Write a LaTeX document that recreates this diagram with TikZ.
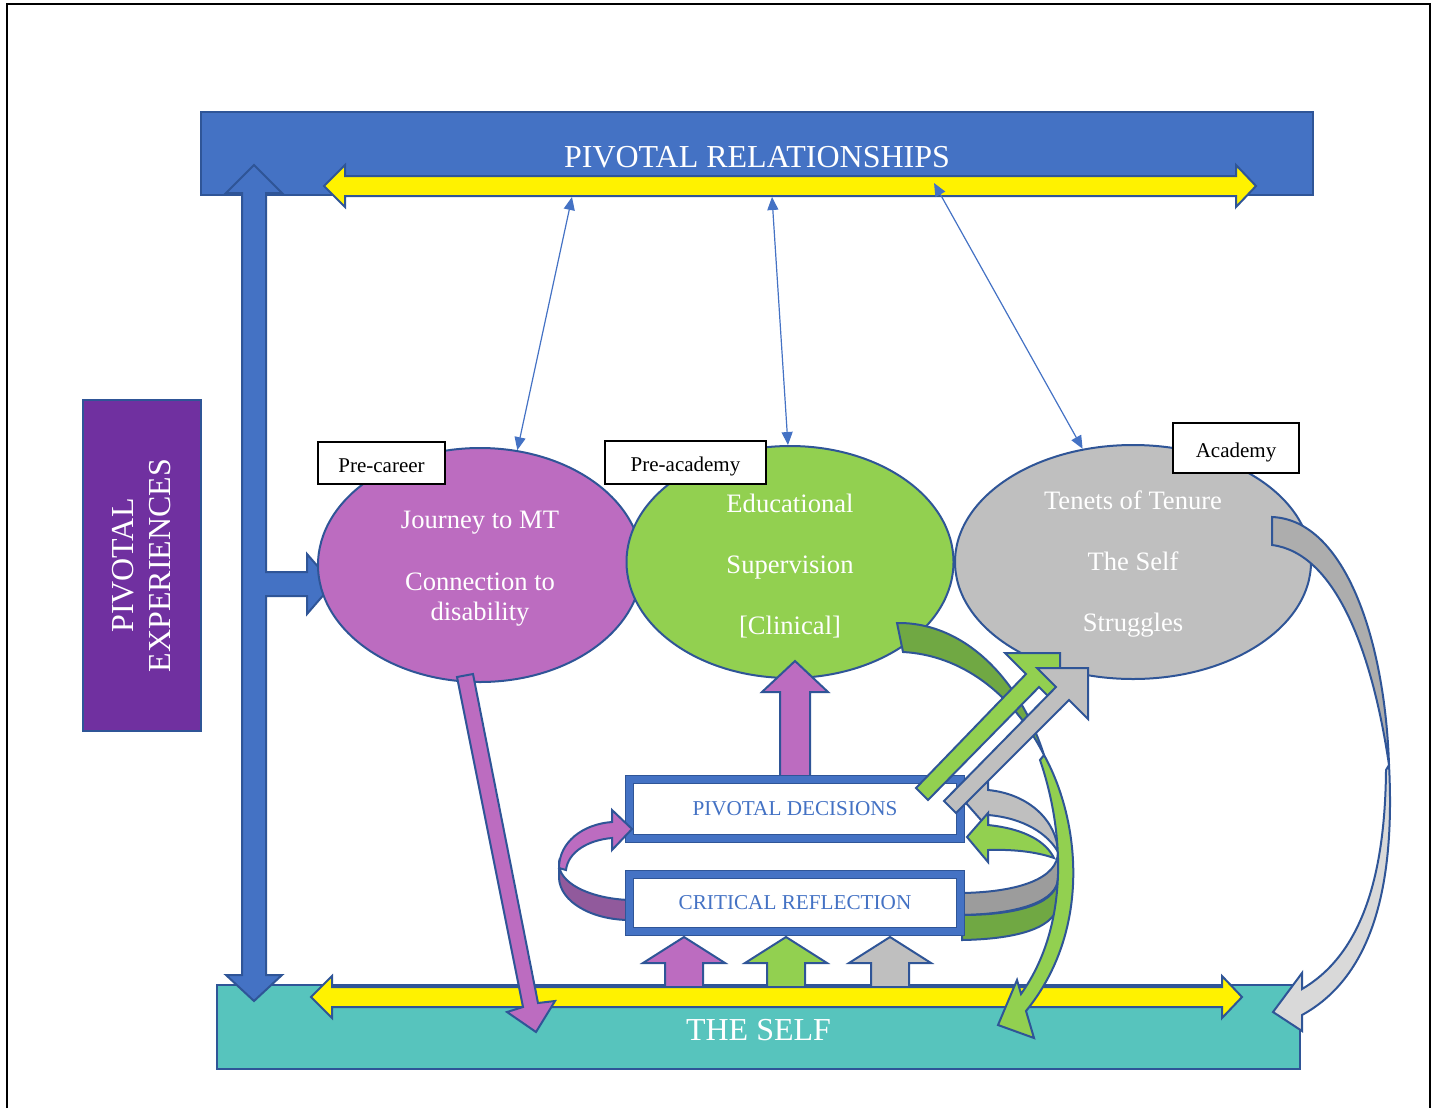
\documentclass[tikz,border=0pt]{standalone}
\usepackage{fontspec}
\setmainfont{Liberation Serif}
\usetikzlibrary{shapes.geometric,arrows.meta}
\definecolor{rim}{HTML}{2F5597}
\definecolor{royal}{HTML}{4472C4}
\definecolor{orchid}{HTML}{BC6CC0}
\definecolor{orchiddark}{HTML}{915A9C}
\definecolor{leaf}{HTML}{92D050}
\definecolor{leafdark}{HTML}{70A843}
\definecolor{ash}{HTML}{BFBFBF}
\definecolor{ashdark}{HTML}{9C9C9C}
\definecolor{ashmid}{HTML}{ADADAD}
\definecolor{ashpale}{HTML}{D9D9D9}
\definecolor{lagoon}{HTML}{57C4BD}
\definecolor{grape}{HTML}{7030A0}

\begin{document}
\begin{tikzpicture}[x=0.5pt,y=-0.5pt,
  rimmed/.style={draw=rim,line width=1pt,line join=miter},
  bar/.style={rimmed,fill=royal,inner sep=0pt,outer sep=0pt,text=white,text height=13.6pt,text depth=0pt,font=\fontsize{16}{19}\selectfont},
  phase/.style={ellipse,rimmed,inner sep=0pt},
  phasetext/.style={text=white,align=center,inner sep=0pt,font=\fontsize{13.3}{15}\selectfont},
  tag/.style={draw=black,line width=0.6pt,fill=white,inner sep=0pt,text height=9.5pt,text depth=0.5pt,font=\fontsize{10.5}{12}\selectfont},
  stage/.style={draw=rim,line width=0.65pt,double=royal,double distance=3.2pt,fill=white,inner sep=0pt,minimum width=165.5pt,text=royal,font=\fontsize{10.6}{12}\selectfont},
  link/.style={draw=royal,line width=0.6pt,>={Triangle[length=6.5pt,width=5.5pt]},<->}]
\useasboundingbox (0,0) rectangle (1438,1108);
\draw[line width=0.75pt] (7,1108) -- (7,4) -- (1430,4) -- (1430,1108);

\node[bar,minimum width=556pt,minimum height=41.5pt] (relations) at (757,153.5) {PIVOTAL RELATIONSHIPS};
\node[bar,fill=lagoon,minimum width=541.5pt,minimum height=42pt] (self) at (758.5,1027) {THE SELF};

\foreach \x/\c in {684/orchid,786/leaf,890/ash}
  \draw[rimmed,fill=\c] (\x-19,988) -- (\x-19,963) -- (\x-41,963) -- (\x,937) -- (\x+41,963) -- (\x+19,963) -- (\x+19,988) -- cycle;
\foreach \y/\a/\b in {186/324/1256,997/311/1242}
  \draw[rimmed,fill=yellow] (\a,\y) -- (\a+21,\y-21) -- (\a+21,\y-10) -- (\b-20,\y-10) -- (\b-20,\y-21) -- (\b,\y) -- (\b-20,\y+21) -- (\b-20,\y+10) -- (\a+21,\y+10) -- (\a+21,\y+21) -- cycle;

\draw[rimmed,fill=royal] (254,165) -- (282,193) -- (266,193) -- (266,572) -- (307,572) -- (307,554) -- (333,584) -- (307,614) -- (307,596) -- (266,596) -- (266,975) -- (282,975) -- (254,1001) -- (226,975) -- (242,975) -- (242,193) -- (226,193) -- cycle;

\node[rimmed,line width=0.6pt,fill=grape,rotate=90,minimum width=165.5pt,minimum height=59pt,inner sep=0pt,text=white,align=center,font=\fontsize{16}{18.5}\selectfont] (experiences) at (142,565.5) {PIVOTAL\\EXPERIENCES};

\node[phase,fill=orchid,minimum width=162pt,minimum height=117pt] (career) at (480,565) {};
\node[phase,fill=leaf,minimum width=163.5pt,minimum height=116pt] (training) at (790,562) {};
\node[phase,fill=ash,minimum width=178pt,minimum height=117pt] (academy) at (1133,562) {};
\node[phasetext] (careertext) at ([yshift=-2pt]career.center) {Journey to MT\\[16pt]Connection to\\disability};
\node[phasetext] (trainingtext) at ([yshift=-2pt]training.center) {Educational\\[15.5pt]Supervision\\[15.5pt]{[Clinical]}};
\node[phasetext] (academytext) at ([yshift=-1pt]academy.center) {Tenets of Tenure\\[15.5pt]The Self\\[15.5pt]Struggles};

\node[tag,minimum width=63.5pt,minimum height=21pt] (careertag) at (381.5,463) {Pre-career};
\node[tag,minimum width=80.5pt,minimum height=21.5pt] (trainingtag) at (685.5,462.5) {Pre-academy};
\node[tag,minimum width=63pt,minimum height=25pt] (academytag) at (1236,448) {Academy};

\coordinate (r1) at (572,197);
\coordinate (r2) at (772,197);
\coordinate (r3) at (934,183);
\draw[link] (r1) -- (career.72);
\draw[link] (r2) -- (training.91);
\draw[link] (r3) -- (academy.114);

\draw[rimmed,fill=orchid] (780,780) -- (780,692) -- (762,692) -- (795,661) -- (828,692) -- (810,692) -- (810,780) -- cycle;

\draw[rimmed,fill=orchiddark] (559,866) .. controls (562,886) and (595,899) .. (630,900) -- (630,920) .. controls (592,920) and (560,902) .. (559,878) -- cycle;
\draw[rimmed,fill=ashdark] (1058,852) .. controls (1058,878) and (1020,892) .. (962,893) -- (962,915) .. controls (1022,914) and (1058,900) .. (1058,878) -- cycle;
\draw[rimmed,fill=leafdark] (1058,878) .. controls (1058,902) and (1022,915) .. (962,915) -- (962,940) .. controls (1022,939) and (1058,926) .. (1058,902) -- cycle;

\node[stage,minimum height=29.5pt] (decisions) at (795,809) {PIVOTAL DECISIONS};
\node[stage,minimum height=28.5pt] (reflection) at (795,903) {CRITICAL REFLECTION};

\draw[rimmed,fill=ash] (988,790) .. controls (1030,794) and (1057,822) .. (1058,852) .. controls (1048,834) and (1024,818) .. (988,815) -- (988,828) -- (966,803) -- (988,778) -- cycle;
\draw[rimmed,fill=leaf] (988,825) .. controls (1026,829) and (1046,842) .. (1054,858) .. controls (1040,853) and (1018,849) .. (988,850) -- (988,862) -- (967,837) -- (988,813) -- cycle;
\draw[rimmed,fill=orchid] (559,868) .. controls (559,842) and (583,824) .. (612,822) -- (612,810) -- (632,829) -- (612,850) -- (612,838) .. controls (588,840) and (568,852) .. (566,870) -- cycle;

\draw[rimmed,fill=orchid] (457,677) -- (473,674) -- (538,1003) -- (555,1001) -- (536,1032) -- (507,1012) -- (523,1007) -- cycle;

\draw[rimmed,fill=leafdark] (897,623) .. controls (965,622) and (1020,680) .. (1044,755) .. controls (1012,692) and (960,655) .. (903,652) -- cycle;
\draw[rimmed,fill=leaf] (1044,755) .. controls (1080,820) and (1092,930) .. (1026,1011) -- (1034,1038) -- (998,1025) -- (1017,980) -- (1021,994) .. controls (1070,925) and (1064,830) .. (1040,760) -- cycle;

\draw[rimmed,fill=leaf] (916,788) -- (1026,674) -- (1005,653) -- (1060,653) -- (1060,708) -- (1039,687) -- (928,800) -- cycle;
\draw[rimmed,fill=ash] (944,801) -- (1056,687) -- (1037,668) -- (1088,668) -- (1088,719) -- (1069,700) -- (956,813) -- cycle;

\draw[rimmed,fill=ashmid] (1272,517) .. controls (1345,520) and (1385,640) .. (1389,765) .. controls (1372,650) and (1335,553) .. (1272,545) -- cycle;
\draw[rimmed,fill=ashpale] (1389,765) .. controls (1395,880) and (1375,975) .. (1302,1015) -- (1302,1031) -- (1273,1012) -- (1302,973) -- (1302,989) .. controls (1360,955) and (1385,880) .. (1386,770) -- cycle;
\end{tikzpicture}
\end{document}
